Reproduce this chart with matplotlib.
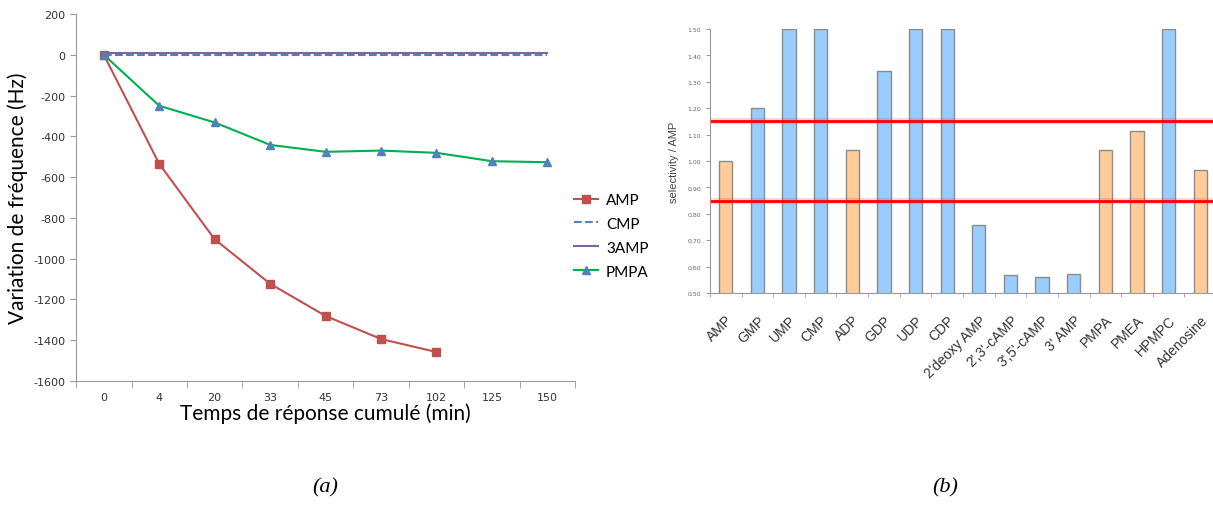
import numpy as np
import matplotlib.pyplot as plt
import matplotlib.transforms as mtransforms

plt.rcParams['axes.unicode_minus'] = False

# panel (a) data
times = ['0', '4', '20', '33', '45', '73', '102', '125', '150']
AMP = [0, -535, -905, -1123, -1281, -1394, -1458]
CMP = [-3, -3, -3, -3, -3, -3, -3, -3, -3]
AMP3 = [10, 10, 10, 10, 10, 10, 10, 10, 10]
PMPA = [0, -250, -332, -442, -476, -470, -481, -522, -527]

# panel (b) data
compounds = ['AMP', 'GMP', 'UMP', 'CMP', 'ADP', 'GDP', 'UDP', 'CDP', "2'deoxy AMP",
             "2',3'-cAMP", "3',5'-cAMP", "3' AMP", 'PMPA', 'PMEA', 'HPMPC', 'Adenosine']
selectivity = [1.00, 1.20, 1.50, 1.50, 1.04, 1.34, 1.50, 1.50, 0.758,
               0.568, 0.561, 0.572, 1.04, 1.115, 1.50, 0.967]
is_ref = [True, False, False, False, True, False, False, False, False,
          False, False, False, True, True, False, True]
upper_lim = 1.15
lower_lim = 0.847

fig = plt.figure(figsize=(12.13, 5.10), dpi=100)

#### (a)
ax1 = fig.add_axes([0.0627, 0.251, 0.4114, 0.7196])
x = np.arange(len(times))
ax1.plot(x[:len(AMP)], AMP, color='#C0504D', marker='s', markersize=6, lw=1.5, label='AMP')
ax1.plot(x, CMP, color='#4F81BD', ls='--', lw=1.5, label='CMP')
ax1.plot(x, AMP3, color='#8064A2', lw=1.5, label='3AMP')
ax1.plot(x, PMPA, color='#00B050', marker='^', markersize=6, markerfacecolor='#4F81BD',
         markeredgecolor='#4F81BD', lw=1.5, label='PMPA')
ax1.set_xlim(-0.5, len(times) - 0.5)
ax1.set_ylim(-1600, 200)
ax1.set_yticks(np.arange(-1600, 201, 200))
ax1.set_xticks(x)
ax1.set_xticklabels(times)
ax1.set_xticks(np.arange(-0.5, len(times), 1), minor=True)
ax1.tick_params(axis='x', which='major', length=0, labelsize=8, pad=8, labelcolor='#333333')
ax1.tick_params(axis='x', which='minor', length=5, color='#999999')
ax1.tick_params(axis='y', length=4, color='#999999', labelsize=8, labelcolor='#333333')
for s in ['top', 'right']:
    ax1.spines[s].set_visible(False)
for s in ['left', 'bottom']:
    ax1.spines[s].set_color('#999999')
ax1.set_ylabel('Variation de fréquence (Hz)', fontsize=15, family='Lato', labelpad=4)
ax1.set_xlabel('Temps de réponse cumulé (min)', fontsize=15, family='Lato', labelpad=0)
ax1.legend(loc='upper left', bbox_to_anchor=(0.97, 0.55), frameon=False,
           handlelength=1.6, handletextpad=0.5, labelspacing=0.65,
           prop={'family': 'Lato', 'size': 11})

#### (b)
ax2 = fig.add_axes([0.5853, 0.4235, 0.4172, 0.5176])
xb = np.arange(len(compounds))
colors = ['#FFCC99' if r else '#99CCFF' for r in is_ref]
ax2.bar(xb, selectivity, width=0.42, color=colors, edgecolor='#8C8C8C', lw=1)
ax2.axhline(upper_lim, color='red', lw=4.5, alpha=0.15)
ax2.axhline(upper_lim, color='red', lw=2)
ax2.axhline(lower_lim, color='red', lw=4.5, alpha=0.15)
ax2.axhline(lower_lim, color='red', lw=2)
ax2.set_xlim(-0.5, len(compounds) - 0.5)
ax2.set_ylim(0.5, 1.5)
yt = np.arange(0.5, 1.51, 0.1)
ax2.set_yticks(yt)
ax2.set_yticklabels(['{:.2f}'.format(v).replace('.', ',') for v in yt])
ax2.set_xticks(xb)
ax2.set_xticklabels(compounds, rotation=45, ha='right', rotation_mode='anchor',
                    family='Liberation Sans', fontsize=10, color='#333333')
shift = mtransforms.ScaledTranslation(-7 / 100, 0, fig.dpi_scale_trans)
for lab in ax2.get_xticklabels():
    lab.set_transform(lab.get_transform() + shift)
ax2.set_xticks(np.arange(-0.5, len(compounds), 1), minor=True)
ax2.tick_params(axis='x', which='major', length=0, pad=14)
ax2.tick_params(axis='x', which='minor', length=3, color='#999999')
ax2.tick_params(axis='y', length=3, color='#999999', labelsize=4.5, labelcolor='#666666')
for s in ['top', 'right']:
    ax2.spines[s].set_visible(False)
for s in ['left', 'bottom']:
    ax2.spines[s].set_color('#999999')
ax2.set_ylabel('selectivity / AMP', fontsize=8, family='Liberation Sans', color='#444444', labelpad=6)

fig.text(0.268, 0.035, '(a)', fontsize=16, family='Liberation Serif', style='italic', ha='center')
fig.text(0.779, 0.035, '(b)', fontsize=16, family='Liberation Serif', style='italic', ha='center')

plt.savefig('out.png', dpi=100)
